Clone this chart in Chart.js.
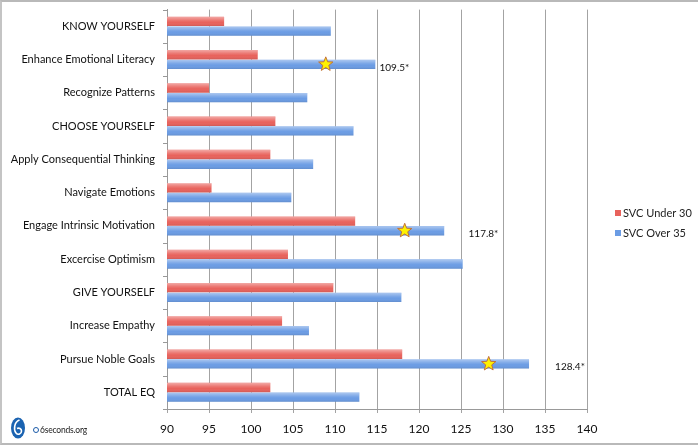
<!DOCTYPE html>
<html>
<head>
<meta charset="utf-8">
<script src="https://cdn.jsdelivr.net/npm/chart.js@4.4.1/dist/chart.umd.min.js"></script>
<style>
  html, body { margin: 0; padding: 0; background: #fff; }
  #wrap { position: relative; width: 700px; height: 447px; overflow: hidden; }
  #frame { position: absolute; left: 0; top: 0; width: 698px; height: 445px; border-top: 2px solid #b9b9b9; border-left: 2px solid #c4c4c4; border-bottom: 2px solid #b9b9b9; box-sizing: border-box; pointer-events: none; }
  #logo { position: absolute; left: 10px; top: 416px; width: 16px; height: 23px; }
  #site { position: absolute; left: 33px; top: 425px; font-family: Lato, 'Liberation Sans', sans-serif; font-size: 8.5px; color: #222; letter-spacing: -0.2px; }
  #site .dot { display: inline-block; width: 4px; height: 4px; border: 1px solid #1a5aa8; border-radius: 50%; margin-right: 1px; vertical-align: 0px; }
</style>
</head>
<body>
<div id="wrap">
  <canvas id="c" width="700" height="447"></canvas>
  <svg id="logo" viewBox="0 0 16 23">
    <ellipse cx="8" cy="12" rx="7" ry="10.5" fill="#1b63b1"/>
    <path d="M9.5 4 C4 6 3.5 14 6 17 C8 19.5 11.5 18 11.5 15 C11.5 12.5 9 11.5 7 12.5" fill="none" stroke="#fff" stroke-width="1.6"/>
  </svg>
  <div id="site"><span class="dot"></span>6seconds.org</div>
  <div id="frame"></div>
</div>
<script>
const categories = [
  'KNOW YOURSELF',
  'Enhance Emotional Literacy',
  'Recognize Patterns',
  'CHOOSE YOURSELF',
  'Apply Consequential Thinking',
  'Navigate Emotions',
  'Engage Intrinsic Motivation',
  'Excercise Optimism',
  'GIVE YOURSELF',
  'Increase Empathy',
  'Pursue Noble Goals',
  'TOTAL EQ'
];
const seriesNames = ['SVC Under 30', 'SVC Over 35'];
const under30 = [96.8, 100.8, 95.0, 102.9, 102.3, 95.3, 112.4, 104.4, 109.8, 103.7, 118.0, 102.3];
const over35  = [109.5, 114.8, 106.7, 112.2, 107.4, 104.8, 123.0, 125.2, 117.9, 106.9, 133.1, 112.9];
const starCategories = ['Enhance Emotional Literacy', 'Engage Intrinsic Motivation', 'Pursue Noble Goals'];
const starValues = [108.9, 118.3, 128.3];
const noteLabels = ['109.5*', '117.8*', '128.4*'];
const noteX = [115.3, 125.9, 136.2];
const xMin = 90, xMax = 140, xStep = 5;

const colors = ['#e8625c', '#6b9ce4'];

const barShine = {
  id: 'barShine',
  afterDatasetsDraw(chart) {
    const ctx = chart.ctx;
    const ca = chart.chartArea;
    ctx.save();
    ctx.beginPath();
    ctx.rect(ca.left, ca.top, ca.right - ca.left, ca.bottom - ca.top);
    ctx.clip();
    chart.data.datasets.forEach((ds, di) => {
      const meta = chart.getDatasetMeta(di);
      meta.data.forEach(bar => {
        const top = bar.y - bar.height / 2, bot = bar.y + bar.height / 2;
        const left = Math.max(ca.left, Math.min(bar.base, bar.x));
        const right = Math.max(bar.base, bar.x);
        const g = ctx.createLinearGradient(0, top, 0, bot);
        g.addColorStop(0, 'rgba(255,255,255,0.45)');
        g.addColorStop(0.4, 'rgba(255,255,255,0.12)');
        g.addColorStop(0.6, 'rgba(255,255,255,0)');
        g.addColorStop(1, 'rgba(0,0,0,0.10)');
        ctx.fillStyle = g;
        ctx.fillRect(left, top, right - left, bar.height);
      });
    });
    ctx.restore();
  }
};

const catTicks = {
  id: 'catTicks',
  afterDraw(chart) {
    const ctx = chart.ctx;
    const ca = chart.chartArea;
    const n = categories.length;
    const step = (ca.bottom - ca.top) / n;
    ctx.save();
    ctx.strokeStyle = '#999';
    ctx.lineWidth = 1;
    ctx.beginPath();
    for (let i = 0; i <= n; i++) {
      const y = Math.round(ca.top + i * step) + 0.5;
      ctx.moveTo(ca.left - 4, y);
      ctx.lineTo(ca.left, y);
    }
    ctx.stroke();
    ctx.restore();
  }
};

const stars = {
  id: 'stars',
  afterDatasetsDraw(chart) {
    const ctx = chart.ctx;
    const xs = chart.scales.x;
    const meta = chart.getDatasetMeta(1);
    starCategories.forEach((cat, i) => {
      const idx = categories.indexOf(cat);
      const bar = meta.data[idx];
      const cx = xs.getPixelForValue(starValues[i]);
      const cy = bar.y;
      const ro = 7.5, ri = 3.2;
      ctx.save();
      ctx.beginPath();
      for (let k = 0; k < 10; k++) {
        const r = k % 2 === 0 ? ro : ri;
        const a = -Math.PI / 2 + k * Math.PI / 5;
        const px = cx + r * Math.cos(a), py = cy + r * Math.sin(a);
        if (k === 0) ctx.moveTo(px, py); else ctx.lineTo(px, py);
      }
      ctx.closePath();
      ctx.fillStyle = '#fff200';
      ctx.fill();
      ctx.lineWidth = 1;
      ctx.strokeStyle = '#c0703c';
      ctx.stroke();
      ctx.fillStyle = '#111';
      ctx.font = '10px Lato, "Liberation Sans", sans-serif';
      ctx.textAlign = 'left';
      ctx.textBaseline = 'middle';
      ctx.fillText(noteLabels[i], xs.getPixelForValue(noteX[i]), cy + 3);
      ctx.restore();
    });
  }
};

const sideLegend = {
  id: 'sideLegend',
  afterDraw(chart) {
    const ctx = chart.ctx;
    ctx.save();
    ctx.font = '11px Lato, "Liberation Sans", sans-serif';
    ctx.textBaseline = 'middle';
    ctx.textAlign = 'left';
    chart.data.datasets.forEach((ds, i) => {
      const y = 213 + i * 20;
      ctx.fillStyle = ds.backgroundColor;
      ctx.fillRect(615, y - 3, 6, 6);
      ctx.fillStyle = '#222';
      ctx.fillText(ds.label, 623, y);
    });
    ctx.restore();
  }
};

new Chart(document.getElementById('c'), {
  type: 'bar',
  data: {
    labels: categories,
    datasets: [
      { label: seriesNames[0], data: under30, backgroundColor: colors[0], categoryPercentage: 0.58, barPercentage: 0.97 },
      { label: seriesNames[1], data: over35, backgroundColor: colors[1], categoryPercentage: 0.58, barPercentage: 0.97 }
    ]
  },
  options: {
    indexAxis: 'y',
    responsive: false,
    animation: false,
    layout: { padding: { top: 8, left: 0, right: 113, bottom: 0 } },
    plugins: { legend: { display: false }, tooltip: { enabled: false } },
    scales: {
      x: {
        min: xMin, max: xMax,
        ticks: { stepSize: xStep, color: '#111', font: { family: 'Lato', size: 12 }, padding: 9 },
        grid: { color: '#a3a3a3', tickLength: 4 },
        border: { color: '#999' },
        afterFit(s) { s.height = 38; }
      },
      y: {
        ticks: { color: '#111', font: { family: 'Lato', size: 11 }, padding: 3 },
        grid: { display: false, drawTicks: true, tickLength: 9 },
        border: { color: '#999' },
        afterFit(s) { s.width = 167; }
      }
    }
  },
  plugins: [barShine, stars, catTicks, sideLegend]
});
</script>
</body>
</html>
